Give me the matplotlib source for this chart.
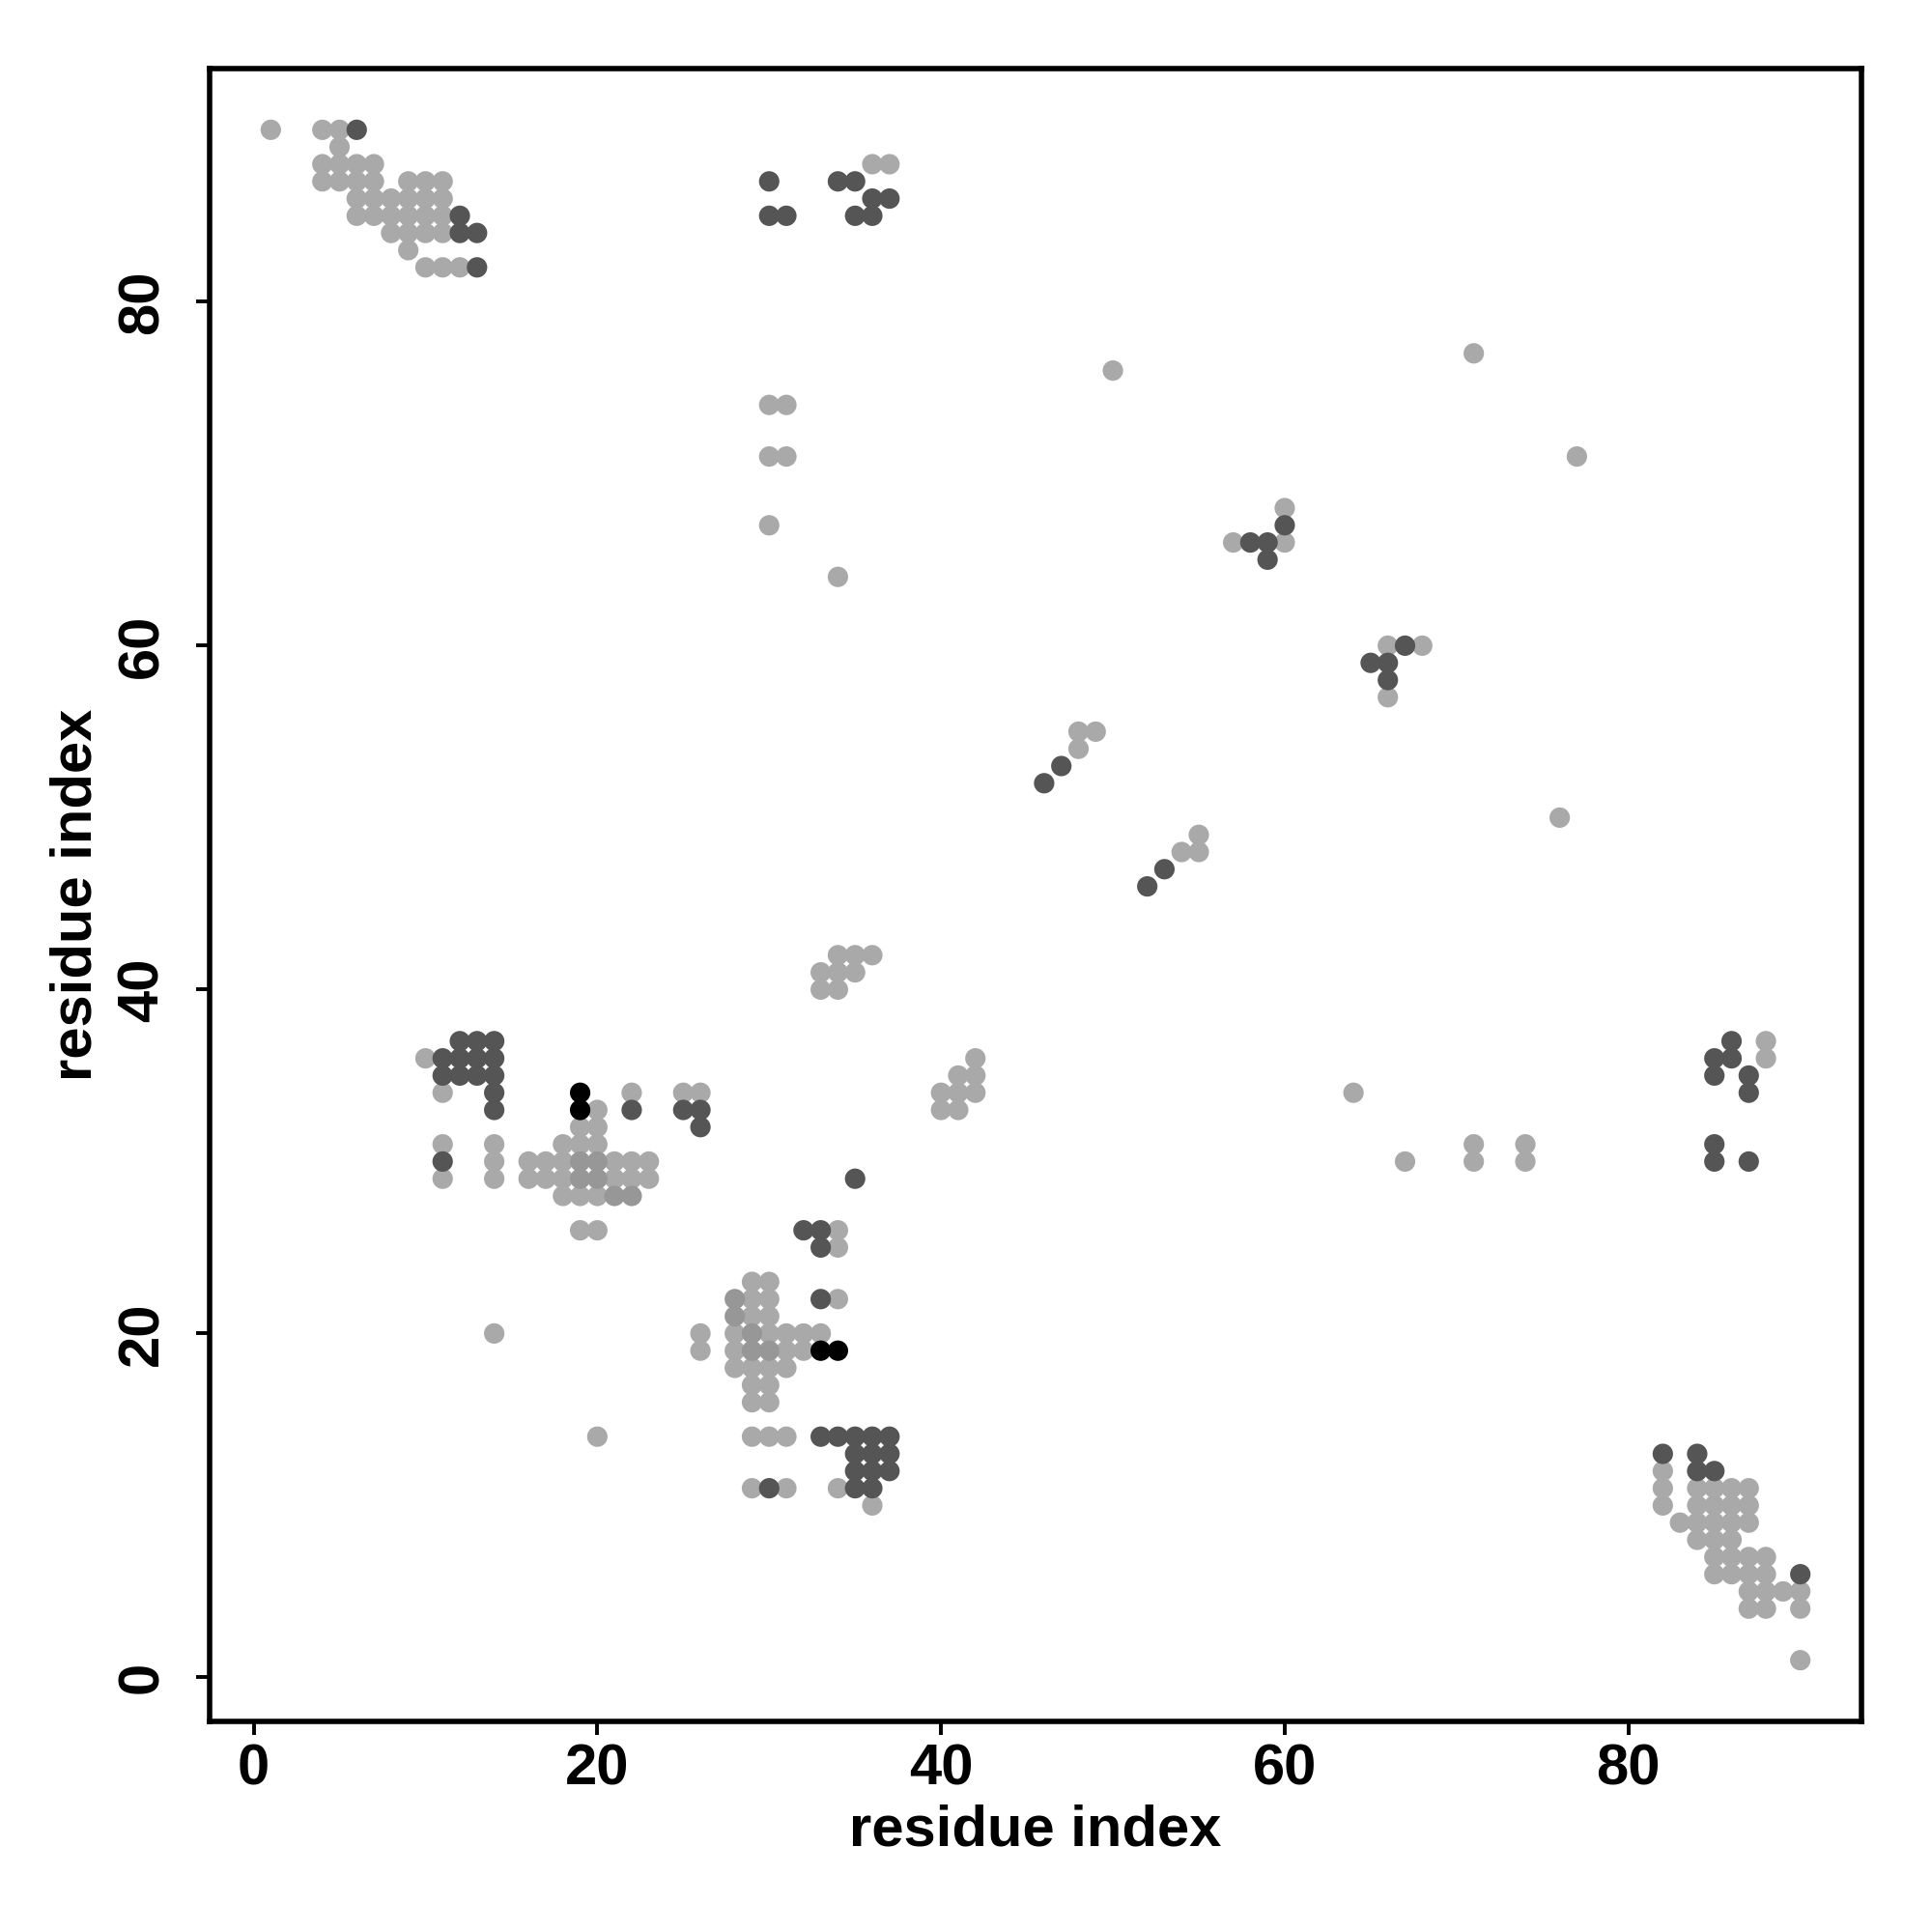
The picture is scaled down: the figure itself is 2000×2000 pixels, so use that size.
import numpy as np
import matplotlib
matplotlib.use("Agg")
import matplotlib.pyplot as plt

plt.rcParams['font.family'] = ['Liberation Sans', 'DejaVu Sans']
plt.rcParams['font.weight'] = 'bold'

# --- contact pairs (residue i, residue j), grouped by shade ---
light_pts = [
    (1, 90), (4, 90), (5, 90), (5, 89), (4, 88), (5, 88), (6, 88), (7, 88),
    (4, 87), (5, 87), (6, 87), (7, 87), (9, 87), (10, 87), (11, 87),
    (6, 86), (7, 86), (8, 86), (9, 86), (10, 86), (11, 86),
    (6, 85), (7, 85), (8, 85), (9, 85), (10, 85), (11, 85),
    (8, 84), (9, 84), (10, 84), (11, 84), (9, 83), (10, 82), (11, 82), (12, 82),
    (36, 88), (37, 88),
    (30, 74), (31, 74), (30, 71), (31, 71), (30, 67), (34, 64),
    (50, 76), (71, 77), (77, 71), (76, 50), (64, 34), (67, 30),
    (71, 31), (71, 30), (74, 31), (74, 30), (20, 14), (14, 20),
    (60, 68), (57, 66), (60, 66), (66, 60), (68, 60), (66, 57),
    (48, 55), (49, 55), (48, 54), (55, 49), (54, 48), (55, 48),
    (34, 42), (35, 42), (36, 42), (33, 41), (34, 41), (35, 41), (33, 40), (34, 40),
    (42, 36), (41, 35), (42, 35), (40, 34), (41, 34), (42, 34), (40, 33), (41, 33),
    (88, 37), (88, 36),
    (10, 36), (11, 34), (22, 34), (25, 34), (26, 34), (20, 33), (19, 32), (20, 32),
    (11, 31), (14, 31), (18, 31), (19, 31), (20, 31),
    (14, 30), (16, 30), (17, 30), (18, 30), (21, 30), (22, 30), (23, 30),
    (11, 29), (14, 29), (16, 29), (17, 29), (18, 29), (21, 29), (22, 29), (23, 29),
    (18, 28), (19, 28), (20, 28), (19, 26), (20, 26),
    (34, 26), (34, 25), (29, 23), (30, 23), (29, 22), (30, 22), (34, 22),
    (29, 21), (30, 21), (26, 20), (28, 20), (30, 20), (31, 20), (32, 20), (33, 20),
    (26, 19), (28, 19), (31, 19), (32, 19),
    (28, 18), (29, 18), (30, 18), (31, 18), (29, 17), (30, 17), (29, 16), (30, 16),
    (29, 14), (30, 14), (31, 14), (29, 11), (31, 11), (34, 11), (36, 10),
    (82, 12), (82, 11), (84, 11), (85, 11), (86, 11), (87, 11),
    (82, 10), (84, 10), (85, 10), (86, 10), (87, 10),
    (83, 9), (84, 9), (85, 9), (86, 9), (87, 9), (84, 8), (85, 8), (86, 8),
    (85, 7), (86, 7), (87, 7), (88, 7), (85, 6), (86, 6), (87, 6), (88, 6),
    (87, 5), (88, 5), (89, 5), (90, 5), (87, 4), (88, 4), (90, 4), (90, 1),
]

mid_pts = [
    (19, 30), (20, 30), (19, 29), (20, 29), (21, 28), (22, 28),
    (28, 22), (28, 21), (29, 20), (29, 19), (30, 19),
]

dark_pts = [
    (6, 90), (12, 85), (12, 84), (13, 84), (13, 82),
    (30, 87), (34, 87), (35, 87), (36, 86), (37, 86),
    (30, 85), (31, 85), (35, 85), (36, 85),
    (35, 29),
    (60, 67), (58, 66), (59, 66), (59, 65), (67, 60), (65, 59), (66, 59), (66, 58),
    (47, 53), (46, 52), (53, 47), (52, 46),
    (86, 37), (85, 36), (86, 36), (85, 35), (87, 35), (87, 34),
    (85, 31), (85, 30), (87, 30),
    (12, 37), (13, 37), (14, 37), (11, 36), (12, 36), (13, 36), (14, 36),
    (11, 35), (12, 35), (13, 35), (14, 35), (14, 34), (14, 33),
    (22, 33), (25, 33), (26, 33), (26, 32), (11, 30),
    (32, 26), (33, 26), (33, 25), (33, 22),
    (33, 14), (34, 14), (35, 14), (36, 14), (37, 14),
    (35, 13), (36, 13), (37, 13), (35, 12), (36, 12), (37, 12),
    (30, 11), (35, 11), (36, 11),
    (82, 13), (84, 13), (84, 12), (85, 12), (90, 6),
]

black_pts = [(19, 34), (19, 33), (33, 19), (34, 19)]

groups = [
    (light_pts, '#a9a9a9'),
    (mid_pts, '#979797'),
    (dark_pts, '#555555'),
    (black_pts, '#000000'),
]

fig = plt.figure(figsize=(10, 10), dpi=200)
ax = fig.add_axes([0.1085, 0.109, 0.855, 0.8555])

for pts, col in groups:
    arr = np.array(pts)
    ax.scatter(arr[:, 0], arr[:, 1], s=58, c=col, edgecolors='none')

# R-style 4% padding around the 1..90 range
ax.set_xlim(1 - 0.04 * 89, 90 + 0.04 * 89)
ax.set_ylim(1 - 0.04 * 89, 90 + 0.04 * 89)
ax.set_xticks([0, 20, 40, 60, 80])
ax.set_yticks([0, 20, 40, 60, 80])

for sp in ax.spines.values():
    sp.set_linewidth(2.0)

ax.tick_params(axis='both', length=5, width=1.4, labelsize=21.5)
ax.tick_params(axis='x', pad=3)
ax.tick_params(axis='y', pad=10)
for lab in ax.get_yticklabels():
    lab.set_rotation(90)
    lab.set_va('center')

ax.set_xlabel('residue index', fontsize=21.5, fontweight='bold', labelpad=3)
ax.set_ylabel('residue index', fontsize=21.5, fontweight='bold', labelpad=5)

fig.savefig('out.png', dpi=200)
